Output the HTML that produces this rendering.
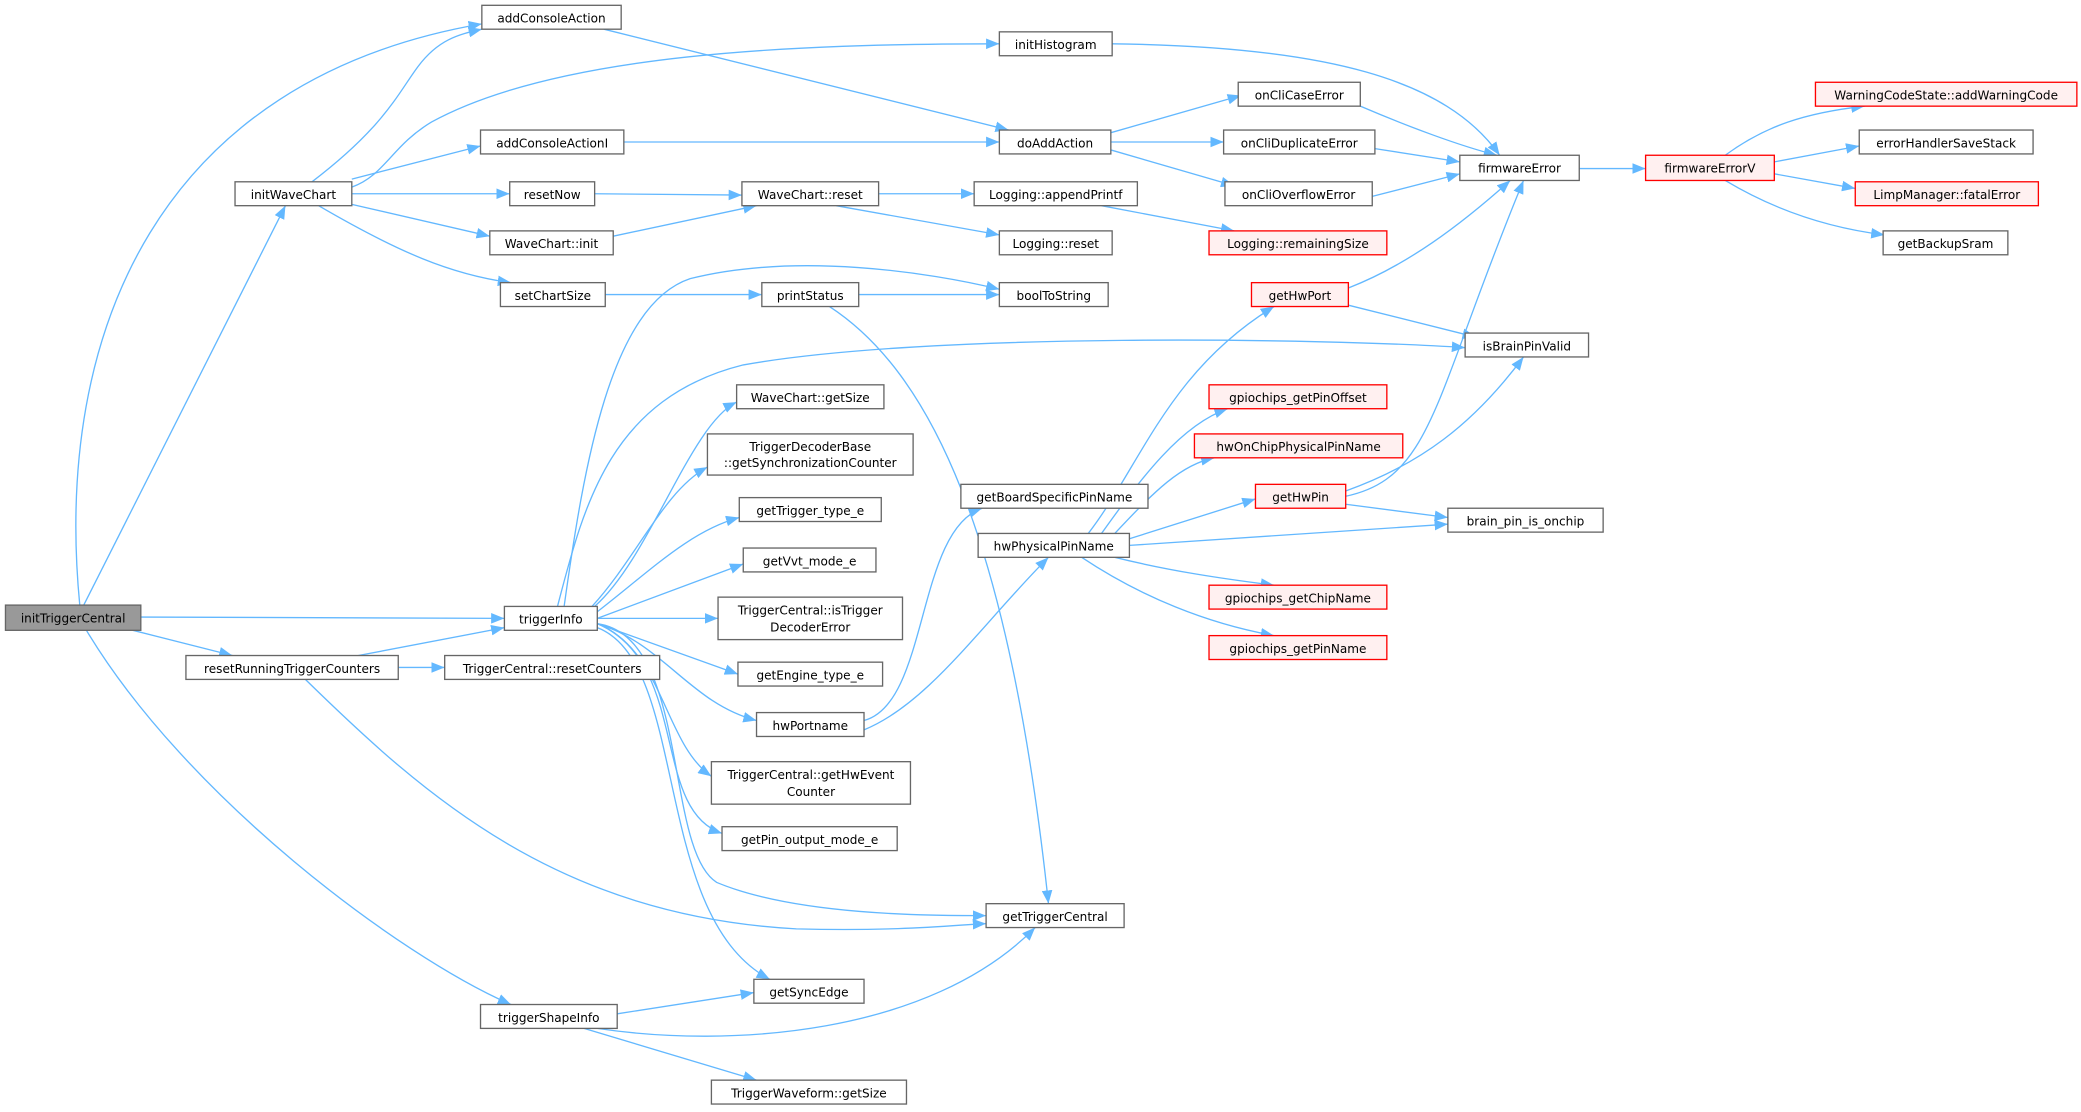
<!DOCTYPE html>
<html><head><meta charset="utf-8"><style>html,body{margin:0;padding:0;background:#fff}svg{display:block}</style></head><body>
<svg width="2081" height="1112" viewBox="0 0 1568 838" xmlns="http://www.w3.org/2000/svg" font-family="'DejaVu Sans','Liberation Sans',sans-serif" font-size="9.1">
<defs><marker id="a" markerWidth="10" markerHeight="8" refX="10" refY="4" orient="auto" markerUnits="userSpaceOnUse"><path d="M0,0L10,4L0,8z" fill="#63b8ff"/></marker></defs>
<g fill="none" stroke="#63b8ff" stroke-width="1" marker-end="url(#a)">
<path d="M60,456C40,250 120,60 363,18"/>
<path d="M63,456L215,155"/>
<path d="M106,465L380,466"/>
<path d="M100,475L175,494"/>
<path d="M65,475C140,600 300,720 385,757"/>
<path d="M235,137C290,95 300,70 315,50C330,30 345,26 363,22"/>
<path d="M265,141C290,132 295,110 325,92C420,40 600,33 753,33"/>
<path d="M265,135L362,110"/>
<path d="M265,146L384,146"/>
<path d="M265,154L369,178"/>
<path d="M240,155C300,190 340,207 385,213"/>
<path d="M455,22L760,98"/>
<path d="M470,107L753,107"/>
<path d="M448,146L559,147"/>
<path d="M462,178L570,155"/>
<path d="M456,222L574,222"/>
<path d="M838,33C1000,35 1090,60 1130,117"/>
<path d="M837,100L935,72"/>
<path d="M837,107L922,107"/>
<path d="M837,113L930,140"/>
<path d="M1025,80C1060,95 1100,110 1128,117"/>
<path d="M1036,112L1100,122"/>
<path d="M1034,148L1100,131"/>
<path d="M1190,127L1240,127"/>
<path d="M1300,117C1330,95 1360,85 1405,80"/>
<path d="M1337,122L1401,110"/>
<path d="M1337,131L1398,142"/>
<path d="M1300,136C1340,160 1380,172 1420,177"/>
<path d="M662,146L734,146"/>
<path d="M630,155L753,177"/>
<path d="M830,155L930,174"/>
<path d="M647,222L753,222"/>
<path d="M625,231C700,280 760,400 790,681"/>
<path d="M1016,217C1060,200 1100,170 1138,136"/>
<path d="M1016,230L1112,254"/>
<path d="M425,457C440,350 460,230 520,210C600,190 700,205 753,218"/>
<path d="M420,457C440,380 460,300 560,275C700,250 1000,255 1104,262"/>
<path d="M448,457C490,420 520,320 555,303"/>
<path d="M446,457C480,420 500,370 533,352"/>
<path d="M450,461C490,430 520,400 557,390"/>
<path d="M450,466L560,425"/>
<path d="M450,466L541,466"/>
<path d="M450,470L556,508"/>
<path d="M450,470C500,485 520,530 570,543"/>
<path d="M450,470C500,490 500,560 536,585"/>
<path d="M450,470C520,500 490,610 544,628"/>
<path d="M450,470C520,480 500,640 540,665C600,690 700,690 743,690"/>
<path d="M450,473C520,500 490,690 580,738"/>
<path d="M270,494L380,473"/>
<path d="M300,503L335,503"/>
<path d="M230,512C320,600 420,690 600,700C680,702 720,697 743,696"/>
<path d="M465,764L568,748"/>
<path d="M450,775C550,790 700,780 780,699"/>
<path d="M440,775L570,814"/>
<path d="M651,543C700,530 690,400 740,383"/>
<path d="M651,550C700,530 740,470 790,420"/>
<path d="M820,402C860,350 880,280 960,231"/>
<path d="M830,402C860,360 890,320 925,308"/>
<path d="M840,402C870,370 890,350 915,345"/>
<path d="M851,406L946,376"/>
<path d="M851,411L1091,395"/>
<path d="M840,420C880,430 920,436 960,441"/>
<path d="M815,420C860,450 910,470 960,479"/>
<path d="M1014,374C1080,360 1080,300 1148,136"/>
<path d="M1014,370C1070,350 1110,320 1148,269"/>
<path d="M1014,380L1091,390"/>
</g>
<g stroke-width="1">
<g fill="#fff" stroke="#666">
<rect x="177" y="137" width="88" height="18"/><rect x="363" y="4" width="105" height="18"/>
<rect x="753" y="24" width="85" height="18"/><rect x="362" y="98" width="108" height="18"/>
<rect x="384" y="137" width="64" height="18"/><rect x="369" y="174" width="93" height="18"/>
<rect x="377" y="213" width="79" height="18"/><rect x="753" y="98" width="84" height="18"/>
<rect x="559" y="137" width="103" height="18"/><rect x="734" y="137" width="123" height="18"/>
<rect x="753" y="174" width="85" height="18"/><rect x="574" y="213" width="73" height="18"/>
<rect x="753" y="213" width="82" height="18"/><rect x="933" y="62" width="92" height="18"/>
<rect x="922" y="98" width="114" height="18"/><rect x="923" y="137" width="111" height="18"/>
<rect x="1100" y="117" width="90" height="19"/><rect x="1401" y="98" width="131" height="18"/>
<rect x="1419" y="174" width="94" height="18"/><rect x="1104" y="251" width="93" height="18"/>
<rect x="1091" y="383" width="117" height="18"/><rect x="737" y="402" width="114" height="18"/>
<rect x="724" y="365" width="141" height="18"/><rect x="555" y="290" width="111" height="18"/>
<rect x="533" y="327" width="155" height="31"/><rect x="557" y="375" width="107" height="18"/>
<rect x="560" y="413" width="100" height="18"/><rect x="541" y="450" width="139" height="32"/>
<rect x="556" y="499" width="109" height="18"/><rect x="570" y="537" width="81" height="18"/>
<rect x="536" y="574" width="150" height="32"/><rect x="544" y="623" width="132" height="18"/>
<rect x="743" y="681" width="104" height="18"/><rect x="568" y="738" width="83" height="18"/>
<rect x="536" y="814" width="147" height="18"/><rect x="380" y="457" width="70" height="18"/>
<rect x="140" y="494" width="160" height="18"/><rect x="335" y="494" width="162" height="18"/>
<rect x="362" y="757" width="103" height="18"/>
</g>
<rect x="4" y="456" width="102" height="19" fill="#999" stroke="#666"/>
<g fill="#fff0f0" stroke="#ff0000">
<rect x="911" y="174" width="134" height="18"/><rect x="1240" y="117" width="97" height="19"/>
<rect x="1368" y="62" width="197" height="18"/><rect x="1398" y="137" width="138" height="18"/>
<rect x="943" y="213" width="73" height="18"/><rect x="911" y="290" width="134" height="18"/>
<rect x="900" y="327" width="157" height="18"/><rect x="946" y="365" width="68" height="18"/>
<rect x="911" y="441" width="134" height="18"/><rect x="911" y="479" width="134" height="18"/>
</g>
</g>
<g fill="#000" text-anchor="middle">
<text x="55" y="469">initTriggerCentral</text>
<text x="221" y="150">initWaveChart</text>
<text x="415.5" y="17">addConsoleAction</text>
<text x="795.5" y="37">initHistogram</text>
<text x="416" y="111">addConsoleActionI</text>
<text x="416" y="150">resetNow</text>
<text x="415.5" y="187">WaveChart::init</text>
<text x="416.5" y="226">setChartSize</text>
<text x="795" y="111">doAddAction</text>
<text x="610.5" y="150">WaveChart::reset</text>
<text x="795.5" y="150">Logging::appendPrintf</text>
<text x="795.5" y="187">Logging::reset</text>
<text x="610.5" y="226">printStatus</text>
<text x="794" y="226">boolToString</text>
<text x="979" y="75">onCliCaseError</text>
<text x="979" y="111">onCliDuplicateError</text>
<text x="978.5" y="150">onCliOverflowError</text>
<text x="978" y="187">Logging::remainingSize</text>
<text x="1145" y="130">firmwareError</text>
<text x="1288.5" y="130">firmwareErrorV</text>
<text x="1466.5" y="75">WarningCodeState::addWarningCode</text>
<text x="1466.5" y="111">errorHandlerSaveStack</text>
<text x="1467" y="150">LimpManager::fatalError</text>
<text x="1466" y="187">getBackupSram</text>
<text x="979.5" y="226">getHwPort</text>
<text x="1150.5" y="264">isBrainPinValid</text>
<text x="978" y="303">gpiochips_getPinOffset</text>
<text x="978.5" y="340">hwOnChipPhysicalPinName</text>
<text x="980" y="378">getHwPin</text>
<text x="1149.5" y="396">brain_pin_is_onchip</text>
<text x="794" y="415">hwPhysicalPinName</text>
<text x="794.5" y="378">getBoardSpecificPinName</text>
<text x="978" y="454">gpiochips_getChipName</text>
<text x="978" y="492">gpiochips_getPinName</text>
<text x="610.5" y="303">WaveChart::getSize</text>
<text x="610.5" y="340">TriggerDecoderBase</text>
<text x="610.5" y="352">::getSynchronizationCounter</text>
<text x="610.5" y="388">getTrigger_type_e</text>
<text x="610" y="426">getVvt_mode_e</text>
<text x="610.5" y="463">TriggerCentral::isTrigger</text>
<text x="610.5" y="476">DecoderError</text>
<text x="610.5" y="512">getEngine_type_e</text>
<text x="610.5" y="550">hwPortname</text>
<text x="611" y="587">TriggerCentral::getHwEvent</text>
<text x="611" y="600">Counter</text>
<text x="610" y="636">getPin_output_mode_e</text>
<text x="795" y="694">getTriggerCentral</text>
<text x="609.5" y="751">getSyncEdge</text>
<text x="609.5" y="827">TriggerWaveform::getSize</text>
<text x="415" y="470">triggerInfo</text>
<text x="220" y="507">resetRunningTriggerCounters</text>
<text x="416" y="507">TriggerCentral::resetCounters</text>
<text x="413.5" y="770">triggerShapeInfo</text>
</g>
</svg>
</body></html>
